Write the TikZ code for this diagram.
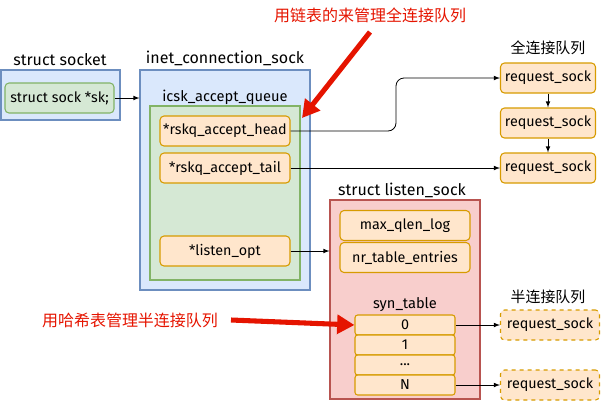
\documentclass[tikz,border=0pt]{standalone}
\usepackage{fontspec}
\setmainfont{Fira Sans}
\newfontfamily\cjk{Noto Sans CJK SC}
\usetikzlibrary{positioning}
\usetikzlibrary{arrows.meta}
\definecolor{bluefill}{HTML}{DAE8FC}
\definecolor{blueline}{HTML}{6C8EBF}
\definecolor{greenfill}{HTML}{D5E8D4}
\definecolor{greenline}{HTML}{82B366}
\definecolor{orangefill}{HTML}{FFE6CC}
\definecolor{orangeline}{HTML}{D79B00}
\definecolor{redfill}{HTML}{F8CECC}
\definecolor{redline}{HTML}{B85450}
\definecolor{notered}{HTML}{E51400}
\tikzset{
    bluebox/.style = {rectangle, thick, draw=blueline, fill=bluefill, inner sep=0pt},
    greenbox/.style = {rectangle, thick, draw=greenline, fill=greenfill, inner sep=0pt},
    redbox/.style = {rectangle, thick, draw=redline, fill=redfill, inner sep=0pt},
    field/.style = {rectangle, rounded corners=3pt, thick, draw=orangeline, fill=orangefill, minimum width=97.5pt, minimum height=22.5pt, inner sep=0pt},
    slot/.style = {rectangle, rounded corners=2pt, thick, draw=orangeline, fill=orangefill, minimum width=75pt, minimum height=15pt, inner sep=0pt},
    reqnode/.style = {rectangle, rounded corners=3pt, thick, draw=orangeline, fill=orangefill, minimum width=71.25pt, minimum height=22.5pt, inner sep=0pt},
    reqnoded/.style = {reqnode, dashed, minimum width=74.25pt},
    title/.style = {inner sep=0pt, font=\fontsize{12}{14}\selectfont},
    cjktitle/.style = {inner sep=0pt, font=\cjk\fontsize{11.2}{13}\selectfont},
    notetext/.style = {inner sep=0pt, text=notered, font=\cjk\fontsize{12}{14}\selectfont},
    edgen/.style = {-latex, semithick},
    edgered/.style = {-{Triangle[length=13pt,width=14pt]}, line width=3.8pt, notered},
    every picture/.style={font issue=\fontsize{10.75}{13}},
    font issue/.style={execute at begin picture={#1\selectfont}}
}
\begin{document}
\begin{tikzpicture}[x=0.75pt,y=-0.75pt]
\path[use as bounding box] (0,0) rectangle (601,401);
%
\node[title] at (60,60) (tsocket) {struct socket};
\node[bluebox,minimum width=89.25pt,minimum height=37.5pt] at (60.5,95) (socket) {};
\node[greenbox,rounded corners=3pt,minimum width=81.75pt,minimum height=22.5pt] at (59.5,98) (sk) {struct sock *sk;};
%
\node[title] at (225,58) (tinet) {inet\_connection\_sock};
\node[bluebox,minimum width=127.5pt,minimum height=165pt] at (225,180) (inet) {};
\node[title,font=\fontsize{11}{13}\selectfont] at (225,97) (tqueue) {icsk\_accept\_queue};
\node[greenbox,minimum width=112.5pt,minimum height=130.5pt] at (225,193) (queue) {};
\node[field] at (225,131) (head) {*rskq\_accept\_head};
\node[field] at (225,168) (tail) {*rskq\_accept\_tail};
\node[field] at (225,251) (lopt) {*listen\_opt};
%
\node[title] at (402,190) (tlisten) {struct listen\_sock};
\node[redbox,minimum width=112.5pt,minimum height=149.25pt] at (405,299.5) (listen) {};
\node[field] at (405,225.5) (maxq) {max\_qlen\_log};
\node[field] at (405,257.5) (nrt) {nr\_table\_entries};
\node[title,font=\fontsize{11}{13}\selectfont] at (405,305) (tsyn) {syn\_table};
\node[slot] at (405,325) (syn0) {0};
\node[slot] at (405,345) (syn1) {1};
\node[slot] at (405,365) (syndots) {...};
\node[slot] at (405,385) (synN) {N};
%
\node[cjktitle] at (548,48) (tfull) {全连接队列};
\node[reqnode] at (548,78) (rq1) {request\_sock};
\node[reqnode] at (548,123) (rq2) {request\_sock};
\node[reqnode] at (548,168) (rq3) {request\_sock};
\node[cjktitle] at (548,297) (thalf) {半连接队列};
\node[reqnoded] at (550,325) (hq1) {request\_sock};
\node[reqnoded] at (550,385) (hq2) {request\_sock};
%
\node[notetext] at (370,15) (nfull) {用链表的来管理全连接队列};
\node[notetext] at (130,320) (nhalf) {用哈希表管理半连接队列};
\coordinate (fullstart) at (370,32);
\coordinate (fullend) at (302,118);
\coordinate (halfstart) at (231,320);
\coordinate (bend) at (396,100);
%
\draw[edgen] (sk.east) -- (sk.east -| inet.west);
\draw[edgen,rounded corners=6pt] (head.east) -| (bend) |- (rq1.west);
\draw[edgen] (tail.east) -- (rq3.west);
\draw[edgen] (rq1.south) -- (rq2.north);
\draw[edgen] (rq2.south) -- (rq3.north);
\draw[edgen] (lopt.east) -- (lopt.east -| listen.west);
\draw[edgen] (syn0.east) -- (hq1.west);
\draw[edgen] (synN.east) -- (hq2.west);
\draw[edgered] (fullstart) -- (fullend);
\draw[edgered] (halfstart) -- (syn0.west);

\end{tikzpicture}
\end{document}
